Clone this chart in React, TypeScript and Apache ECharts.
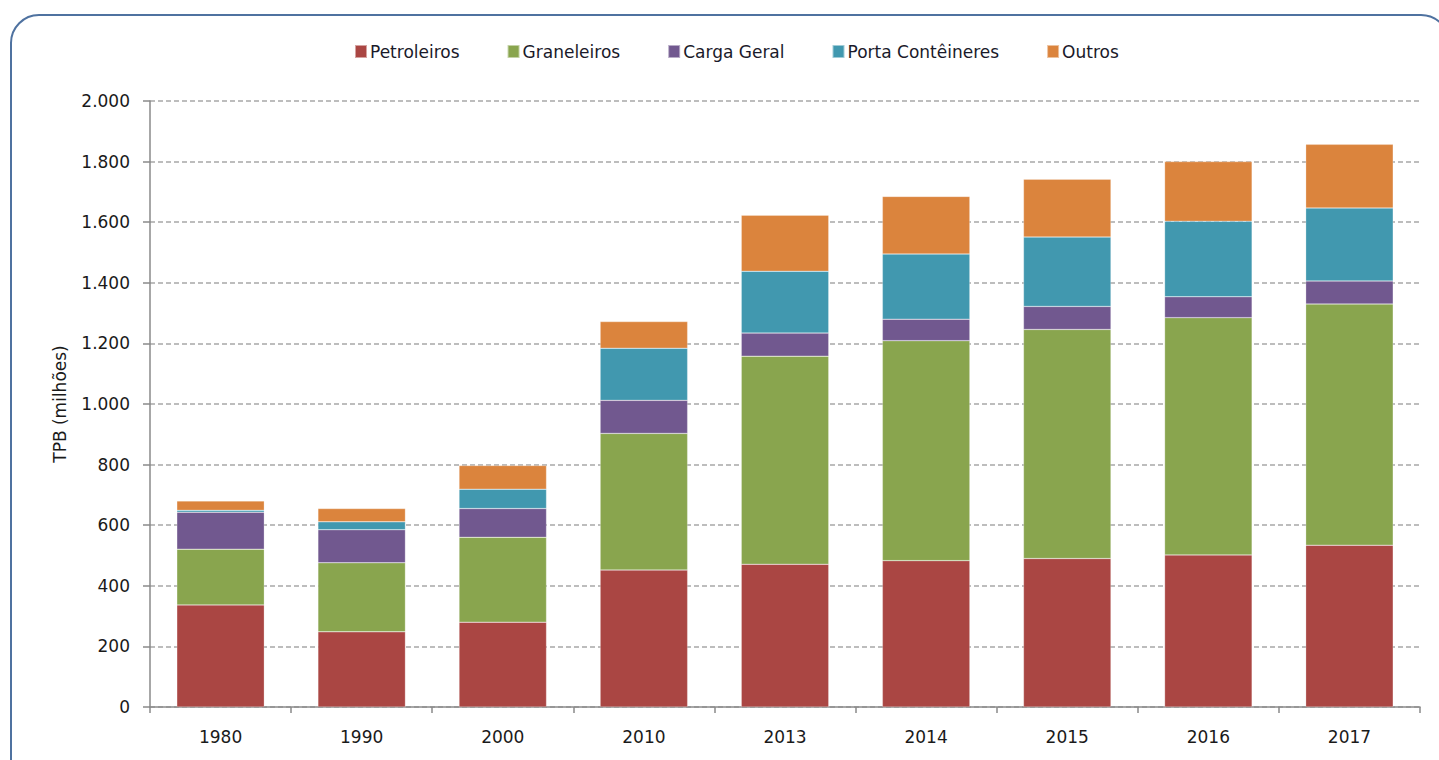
import React, { useEffect, useRef } from "react";
import * as echarts from "echarts";

const categories = ["1980", "1990", "2000", "2010", "2013", "2014", "2015", "2016", "2017"];
const petroleiros = [337, 248, 280, 452, 471, 483, 490, 502, 534];
const graneleiros = [184, 228, 280, 451, 687, 726, 756, 783, 796];
const cargaGeral = [122, 109, 95, 109, 76, 71, 76, 69, 76];
const portaConteineres = [6, 26, 64, 172, 204, 215, 229, 249, 241];
const outros = [31, 44, 78, 88, 185, 190, 191, 197, 210];

const seriesNames = ["Petroleiros", "Graneleiros", "Carga Geral", "Porta Contêineres", "Outros"];
const seriesData = [petroleiros, graneleiros, cargaGeral, portaConteineres, outros];
const seriesColors = ["#AA4643", "#89A54E", "#71588F", "#4198AF", "#DB843D"];

const FONT = "DejaVu Sans";

export default function App() {
  const ref = useRef<HTMLDivElement>(null);

  useEffect(() => {
    if (!ref.current) return;
    const chart = echarts.init(ref.current, null, { renderer: "svg" });
    chart.setOption({
      animation: false,
      backgroundColor: "#ffffff",
      graphic: [
        {
          type: "rect",
          shape: { x: 11, y: 15, width: 1438, height: 790, r: 28 },
          style: { fill: "none", stroke: "#4f72a0", lineWidth: 2 },
          silent: true,
          z: 0,
        },
      ],
      legend: {
        left: 349,
        top: 38,
        itemWidth: 12,
        itemHeight: 13,
        itemGap: 47,
        icon: "rect",
        textStyle: { fontFamily: FONT, fontSize: 17, color: "#1a1a2a", padding: [0, 0, 0, -2] },
        data: seriesNames,
      },
      grid: { left: 150, right: 19, top: 101, bottom: 53, containLabel: false },
      xAxis: {
        type: "category",
        data: categories,
        boundaryGap: true,
        axisLine: { lineStyle: { color: "#8a8a8a", width: 1.5 } },
        axisTick: { show: true, length: 6, alignWithLabel: false, lineStyle: { color: "#8a8a8a", width: 1.5 } },
        axisLabel: { fontFamily: FONT, fontSize: 17, color: "#1a1a1a", margin: 21 },
      },
      yAxis: {
        type: "value",
        min: 0,
        max: 2000,
        interval: 200,
        name: "TPB (milhões)",
        nameLocation: "middle",
        nameGap: 82,
        nameTextStyle: { fontFamily: FONT, fontSize: 17, color: "#1a1a1a" },
        axisLine: { show: true, lineStyle: { color: "#8a8a8a", width: 1.5 } },
        axisTick: { show: true, length: 7, lineStyle: { color: "#8a8a8a", width: 1.5 } },
        axisLabel: {
          fontFamily: FONT,
          fontSize: 17,
          color: "#1a1a1a",
          margin: 20,
          formatter: (v: number) => v.toLocaleString("pt-BR"),
        },
        splitLine: { show: true, lineStyle: { color: "#a8a8a8", type: [5, 3], width: 1.5 } },
      },
      series: seriesNames.map((name, i) => ({
        name,
        type: "bar",
        stack: "total",
        barWidth: "62%",
        data: seriesData[i],
        itemStyle: { color: seriesColors[i], borderColor: "rgba(255,255,255,0.5)", borderWidth: 0.5 },
      })),
    });
    return () => chart.dispose();
  }, []);

  return (
    <div
      ref={ref}
      style={{ position: "fixed", left: 0, top: 0, width: 1439, height: 760 }}
    />
  );
}
